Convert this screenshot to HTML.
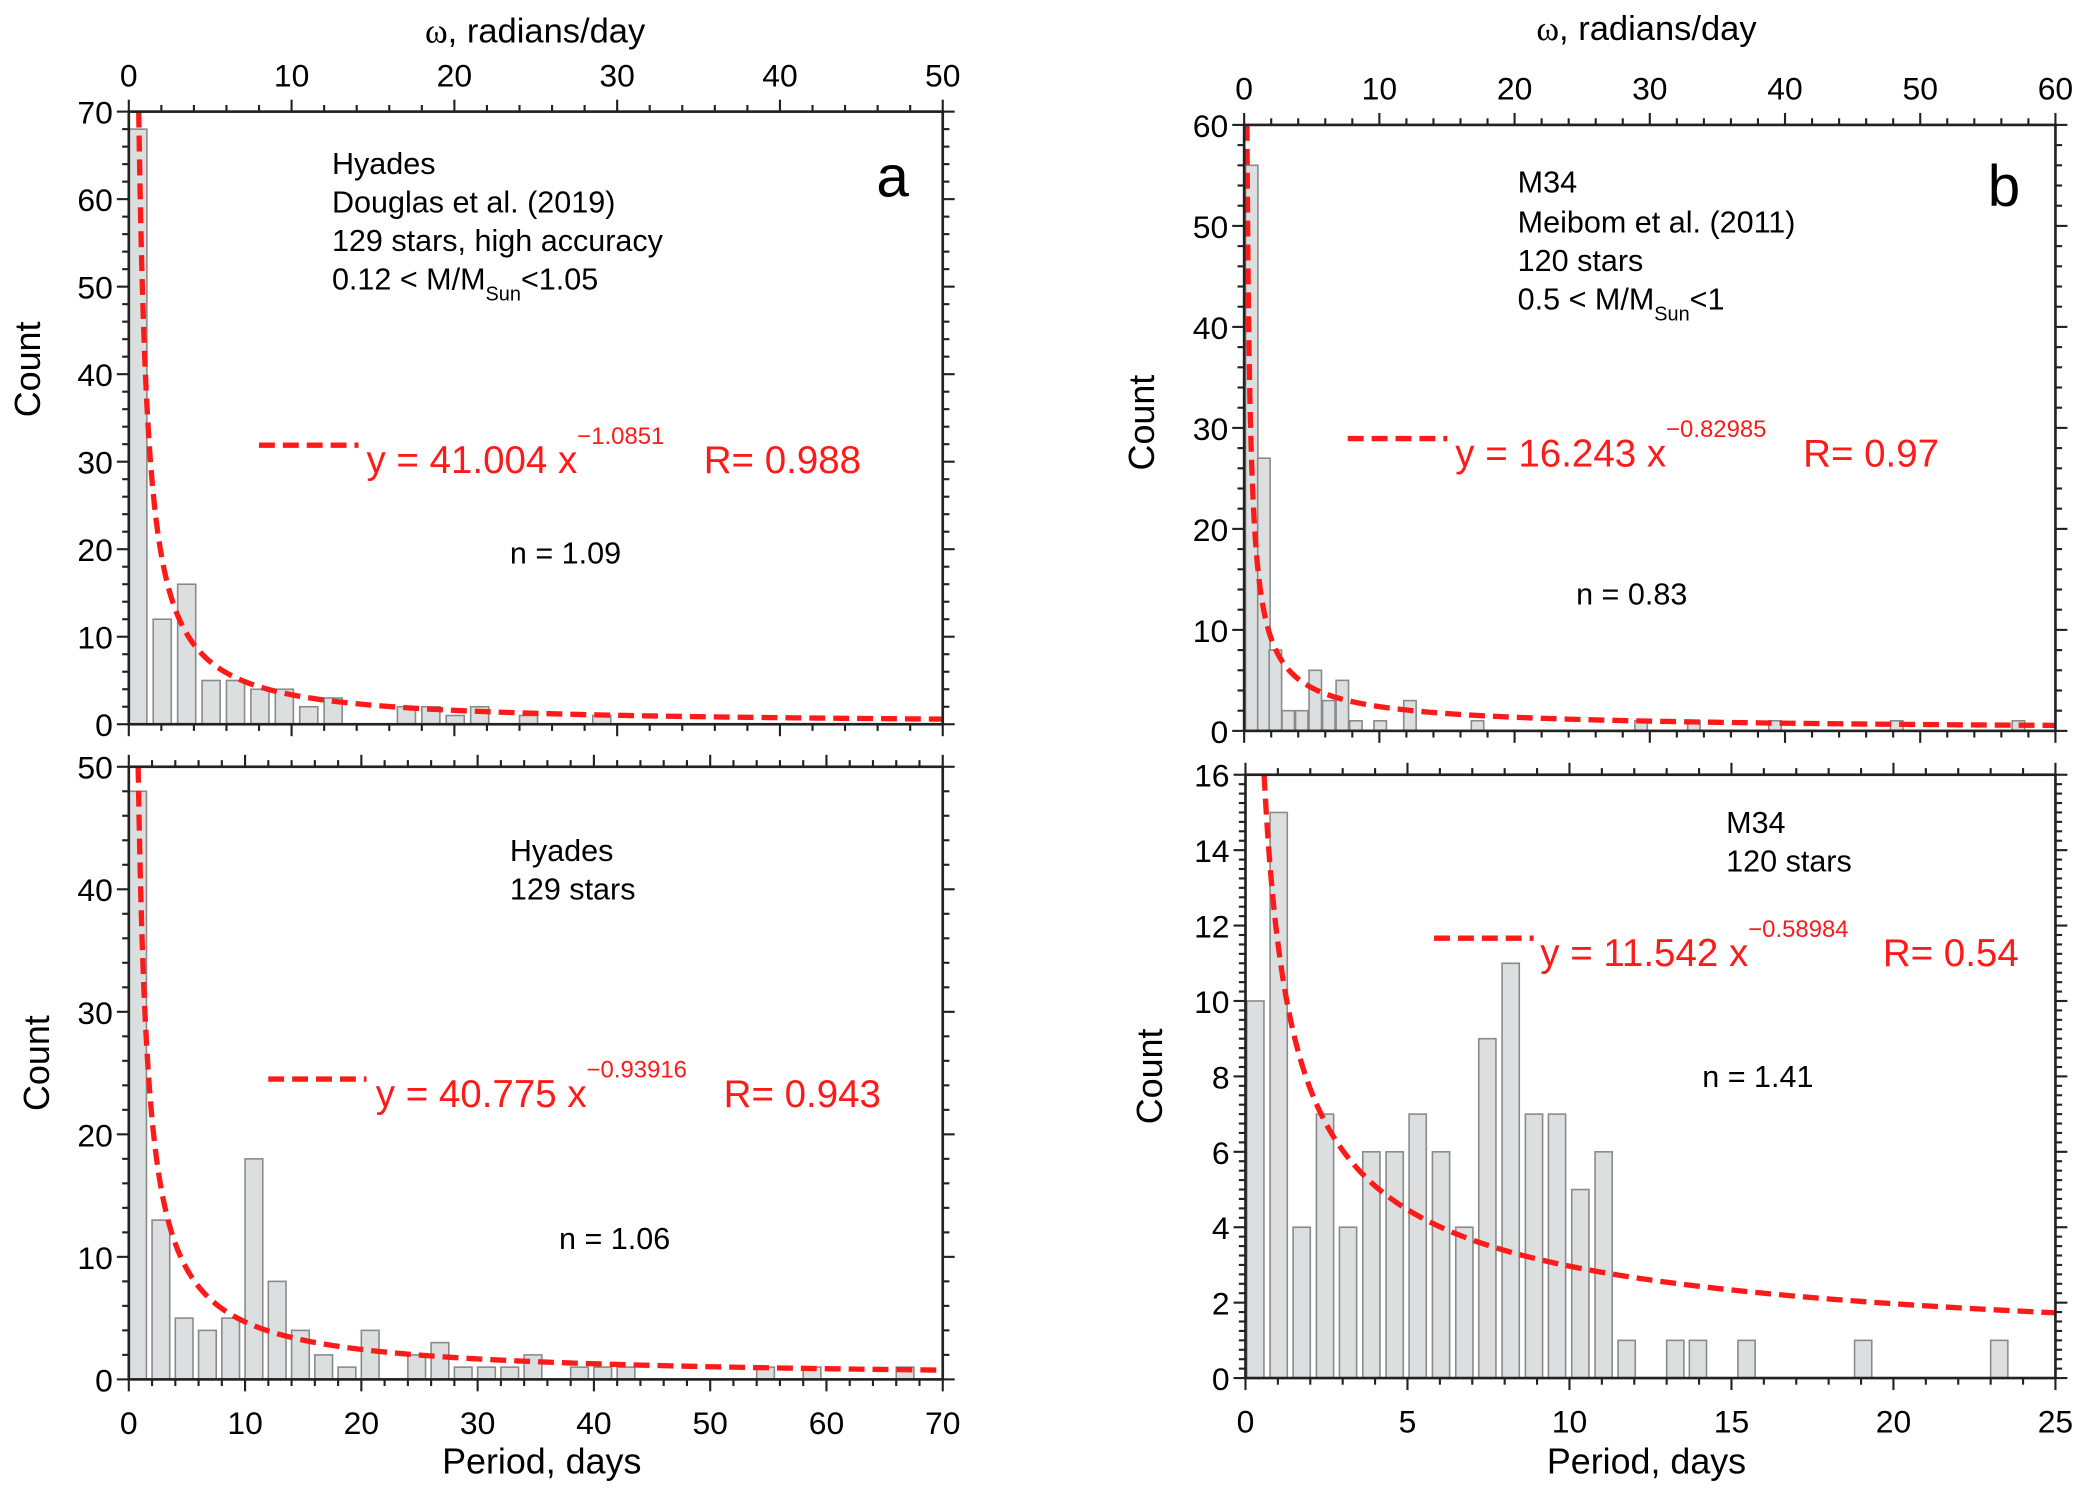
<!DOCTYPE html>
<html><head><meta charset="utf-8"><style>
html,body{margin:0;padding:0;background:#fff;}
svg{display:block;}
text{font-family:"Liberation Sans",sans-serif;}
</style></head><body>
<svg id="fig" width="2082" height="1495" viewBox="0 0 1568 1125" preserveAspectRatio="none" xmlns="http://www.w3.org/2000/svg">
<g id="g"></g>
<text x="403" y="32" font-size="26" text-anchor="middle"><tspan font-family="Liberation Serif">ω</tspan>, radians/day</text>
<text transform="translate(30,278) rotate(-90)" font-size="27" text-anchor="middle">Count</text>
<g font-size="23">
<text x="250" y="131">Hyades</text>
<text x="250" y="160">Douglas et al. (2019)</text>
<text x="250" y="189">129 stars, high accuracy</text>
<text x="250" y="218">0.12 &lt; M/M<tspan font-size="15" dy="8">Sun</tspan><tspan dy="-8">&lt;1.05</tspan></text>
</g>
<text x="660" y="148" font-size="44">a</text>
<g fill="#ff1a1a">
<line x1="195" y1="335" x2="270" y2="335" stroke="#ff1a1a" stroke-width="4" stroke-dasharray="12,6"/>
<text x="276" y="356" font-size="29">y = 41.004 x<tspan font-size="18" dy="-22">−1.0851</tspan></text>
<text x="530" y="356" font-size="29">R= 0.988</text>
</g>
<text x="384" y="424" font-size="23">n = 1.09</text>
<text transform="translate(37,800) rotate(-90)" font-size="27" text-anchor="middle">Count</text>
<g font-size="23">
<text x="384" y="648">Hyades</text>
<text x="384" y="677">129 stars</text>
</g>
<g fill="#ff1a1a">
<line x1="202" y1="812" x2="276" y2="812" stroke="#ff1a1a" stroke-width="4" stroke-dasharray="12,6"/>
<text x="283" y="833" font-size="29">y = 40.775 x<tspan font-size="18" dy="-22">−0.93916</tspan></text>
<text x="545" y="833" font-size="29">R= 0.943</text>
</g>
<text x="421" y="940" font-size="23">n = 1.06</text>
<text x="408" y="1109" font-size="27" text-anchor="middle">Period, days</text>
<text x="1240" y="30" font-size="26" text-anchor="middle"><tspan font-family="Liberation Serif">ω</tspan>, radians/day</text>
<text transform="translate(869,318) rotate(-90)" font-size="27" text-anchor="middle">Count</text>
<g font-size="23">
<text x="1143" y="145">M34</text>
<text x="1143" y="175">Meibom et al. (2011)</text>
<text x="1143" y="204">120 stars</text>
<text x="1143" y="233">0.5 &lt; M/M<tspan font-size="15" dy="8">Sun</tspan><tspan dy="-8">&lt;1</tspan></text>
</g>
<text x="1497" y="155" font-size="44">b</text>
<g fill="#ff1a1a">
<line x1="1015" y1="330" x2="1090" y2="330" stroke="#ff1a1a" stroke-width="4" stroke-dasharray="12,6"/>
<text x="1096" y="351" font-size="29">y = 16.243 x<tspan font-size="18" dy="-22">−0.82985</tspan></text>
<text x="1358" y="351" font-size="29">R= 0.97</text>
</g>
<text x="1187" y="455" font-size="23">n = 0.83</text>
<text transform="translate(875,810) rotate(-90)" font-size="27" text-anchor="middle">Count</text>
<g font-size="23">
<text x="1300" y="627">M34</text>
<text x="1300" y="656">120 stars</text>
</g>
<g fill="#ff1a1a">
<line x1="1080" y1="706" x2="1155" y2="706" stroke="#ff1a1a" stroke-width="4" stroke-dasharray="12,6"/>
<text x="1160" y="727" font-size="29">y = 11.542 x<tspan font-size="18" dy="-22">−0.58984</tspan></text>
<text x="1418" y="727" font-size="29">R= 0.54</text>
</g>
<text x="1282" y="818" font-size="23">n = 1.41</text>
<text x="1240" y="1109" font-size="27" text-anchor="middle">Period, days</text>
</svg>
<script>
const aUpStarts = [0,1.5,3,4.5,6,7.5,9,10.5,12,16.5,18,19.5,21,24,28.5];
const aUpCounts = [68,12,16,5,5,4,4,2,3,2,2,1,2,1,1];
const aUpTopTicks = ["0","10","20","30","40","50"];
const aUpYTicks = ["0","10","20","30","40","50","60","70"];
const aLoStarts = [0,2,4,6,8,10,12,14,16,18,20,24,26,28,30,32,34,38,40,42,54,58,66];
const aLoCounts = [48,13,5,4,5,18,8,4,2,1,4,2,3,1,1,1,2,1,1,1,1,1,1];
const aLoXTicks = ["0","10","20","30","40","50","60","70"];
const aLoYTicks = ["0","10","20","30","40","50"];
const bUpStarts = [0.1,1,1.85,2.8,3.8,4.8,5.8,6.8,7.8,9.6,11.8,16.8,28.9,32.8,38.8,47.8,56.8];
const bUpCounts = [56,27,8,2,2,6,3,5,1,1,3,1,1,1,1,1,1];
const bUpTopTicks = ["0","10","20","30","40","50","60"];
const bUpYTicks = ["0","10","20","30","40","50","60"];
const bLoStarts = [0.04,0.76,1.47,2.19,2.9,3.62,4.34,5.05,5.77,6.49,7.2,7.92,8.64,9.35,10.07,10.79,11.5,13.0,13.7,15.2,18.8,23.0];
const bLoCounts = [10,15,4,7,4,6,6,7,6,4,9,11,7,7,5,6,1,1,1,1,1,1];
const bLoXTicks = ["0","5","10","15","20","25"];
const bLoYTicks = ["0","2","4","6","8","10","12","14","16"];
const aUpFit = [41.004, 1.0851];
const aLoFit = [40.775, 0.93916];
const bUpFit = [16.243, 0.82985];
const bLoFit = [11.542, 0.58984];

const NS = "http://www.w3.org/2000/svg";
const G = document.getElementById('g');
function mk(tag, attrs, parent){
  const e = document.createElementNS(NS, tag);
  for (const k in attrs) e.setAttribute(k, attrs[k]);
  (parent||G).appendChild(e);
  return e;
}
function panel(id, c, starts, counts, binW, frac, fit, xTicks, yTicks, topTicks){
  const g = mk('g', {});
  
  
  const sx = v => c.x0 + (v - c.xmin) / (c.xmax - c.xmin) * (c.x1 - c.x0);
  const sy = v => c.yb - v / c.ymax * (c.yb - c.yt);
  for (let i = 0; i < counts.length; i++){
    const x = sx(starts[i]), w = sx(starts[i] + binW * frac) - x;
    const r = mk('rect', {x: x, y: sy(counts[i]), width: w, height: sy(0) - sy(counts[i]), fill: '#dcdfdf', stroke: '#8a8a8a', 'stroke-width': 1.2}, g);
    
    
  }
  const xs = Math.pow(fit[0] / c.ymax, 1 / fit[1]);
  let pts = [];
  for (let k = 0; k <= 400; k++){
    const x = xs * Math.pow(c.xmax / xs, k / 400);
    pts.push(sx(x).toFixed(2) + ',' + sy(fit[0] * Math.pow(x, -fit[1])).toFixed(2));
  }
  const pl = mk('polyline', {points: pts.join(' '), fill: 'none', stroke: '#ff1a1a', 'stroke-width': 4, 'stroke-dasharray': '12,6'}, g);
  
  
  const fr = mk('rect', {x: c.x0, y: c.yt, width: c.x1 - c.x0, height: c.yb - c.yt, fill: 'none', stroke: '#222', 'stroke-width': 2}, g);
  
  
  const tk = (x1, y1, x2, y2) => mk('line', {x1: x1, y1: y1, x2: x2, y2: y2, stroke: '#222', 'stroke-width': 1.6}, g);
  const yMaj = c.ymax / (yTicks.length - 1);
  for (let v = 0; v <= c.ymax + 1e-9; v += c.yMin){
    const y = sy(v);
    const maj = Math.abs(v / yMaj - Math.round(v / yMaj)) < 1e-6;
    const L = maj ? 9 : 5;
    tk(c.x0 - L, y, c.x0, y);
    tk(c.x1, y, c.x1 + L, y);
  }
  yTicks.forEach((t, i) => {
    const e = mk('text', {x: c.x0 - 12, y: sy(i * yMaj) + 9, 'font-size': 24, 'text-anchor': 'end'}, g);
    e.textContent = t;
    
    
  });
  const xMajN = c.xMajor;
  for (let v = c.xmin; v <= c.xmax + 1e-9; v += c.xMinorStep){
    const x = sx(v);
    const maj = Math.abs(v / xMajN - Math.round(v / xMajN)) < 1e-6;
    const L = maj ? 9 : 5;
    tk(x, c.yt - L, x, c.yt);
    tk(x, c.yb, x, c.yb + L);
  }
  if (topTicks) topTicks.forEach((t, i) => {
    const e = mk('text', {x: sx(i * xMajN), y: c.yt - 19, 'font-size': 24, 'text-anchor': 'middle'}, g);
    e.textContent = t;
    
    
  });
  if (xTicks) xTicks.forEach((t, i) => {
    const e = mk('text', {x: sx(i * xMajN), y: c.yb + 41, 'font-size': 24, 'text-anchor': 'middle'}, g);
    e.textContent = t;
    
    
  });
}
panel('panel-a-upper', {x0:97,x1:710,yt:84,yb:545,xmin:0,xmax:50,ymax:70,yMin:2,xMajor:10,xMinorStep:2}, aUpStarts, aUpCounts, 1.5, 0.74, aUpFit, null, aUpYTicks, aUpTopTicks);
panel('panel-a-lower', {x0:97,x1:710,yt:577,yb:1038,xmin:0,xmax:70,ymax:50,yMin:2,xMajor:10,xMinorStep:2}, aLoStarts, aLoCounts, 2, 0.76, aLoFit, aLoXTicks, aLoYTicks, null);
panel('panel-b-upper', {x0:937,x1:1548,yt:94,yb:550,xmin:0,xmax:60,ymax:60,yMin:2,xMajor:10,xMinorStep:2}, bUpStarts, bUpCounts, 1, 0.92, bUpFit, null, bUpYTicks, bUpTopTicks);
panel('panel-b-lower', {x0:938,x1:1548,yt:583,yb:1037,xmin:0,xmax:25,ymax:16,yMin:0.25,xMajor:5,xMinorStep:1}, bLoStarts, bLoCounts, 0.717, 0.74, bLoFit, bLoXTicks, bLoYTicks, null);
</script>
</body></html>
